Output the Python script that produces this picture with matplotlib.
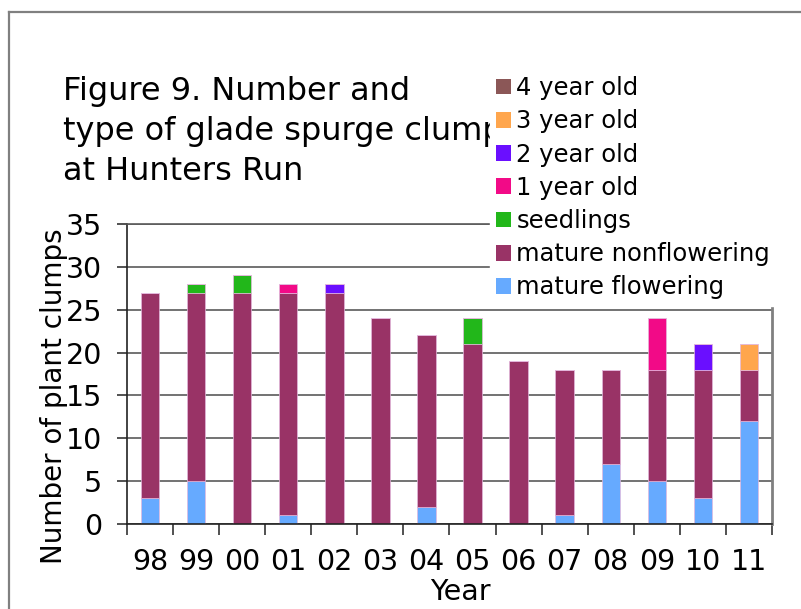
import numpy as np
import matplotlib
matplotlib.use("Agg")
import matplotlib.pyplot as plt
from matplotlib.patches import Patch
from matplotlib.lines import Line2D

years = ['98', '99', '00', '01', '02', '03', '04', '05', '06', '07', '08', '09', '10', '11']

mature_flowering = [3, 5, 0, 1, 0, 0, 2, 0, 0, 1, 7, 5, 3, 12]
mature_nonflowering = [24, 22, 27, 26, 27, 24, 20, 21, 19, 17, 11, 13, 15, 6]
seedlings = [0, 1, 2, 0, 0, 0, 0, 3, 0, 0, 0, 0, 0, 0]
one_year_old = [0, 0, 0, 1, 0, 0, 0, 0, 0, 0, 0, 6, 0, 0]
two_year_old = [0, 0, 0, 0, 1, 0, 0, 0, 0, 0, 0, 0, 3, 0]
three_year_old = [0, 0, 0, 0, 0, 0, 0, 0, 0, 0, 0, 0, 0, 3]
four_year_old = [0, 0, 0, 0, 0, 0, 0, 0, 0, 0, 0, 0, 0, 0]

series = [
    ('mature flowering', mature_flowering, '#66AAFF'),
    ('mature nonflowering', mature_nonflowering, '#993366'),
    ('seedlings', seedlings, '#22B71A'),
    ('1 year old', one_year_old, '#F20A87'),
    ('2 year old', two_year_old, '#6A0FFF'),
    ('3 year old', three_year_old, '#FFA64D'),
    ('4 year old', four_year_old, '#8B5757'),
]

W, H = 801, 609
fig = plt.figure(figsize=(W / 100, H / 100), dpi=100)
ax = fig.add_axes([127 / W, 1 - 524 / H, (772 - 127) / W, (524 - 224) / H])

x = np.arange(len(years))
bottom = np.zeros(len(years))
for name, vals, col in series:
    vals = np.array(vals, dtype=float)
    ax.bar(x, vals, width=0.4, bottom=bottom, color=col,
           edgecolor='#e3b8dc', linewidth=0.5, zorder=2)
    bottom += vals

ax.set_xlim(-0.5, len(years) - 0.5)
ax.set_ylim(0, 35)
ax.set_yticks(np.arange(0, 36, 5))
ax.yaxis.grid(True, color='#5a5a5a', linewidth=1.2)
ax.set_axisbelow(True)

# category boundary ticks, labels in the middle
ax.set_xticks(np.arange(-0.5, len(years), 1.0))
ax.set_xticklabels([])
ax.set_xticks(x, minor=True)
ax.set_xticklabels(years, minor=True)
ax.tick_params(axis='x', which='major', direction='out', length=8, width=1.2, color='#333333')
ax.tick_params(axis='x', which='minor', length=0, pad=17, labelsize=20.5)
ax.tick_params(axis='y', direction='out', length=7, width=1.2, color='#333333',
               pad=11, labelsize=20.5)

for s in ['left', 'bottom']:
    ax.spines[s].set_color('#222222')
    ax.spines[s].set_linewidth(1.2)
ax.spines['top'].set_color('#5a5a5a')
ax.spines['top'].set_linewidth(1.2)
ax.spines['right'].set_color('#808080')
ax.spines['right'].set_linewidth(2)

fig.text(54 / W, 1 - 396 / H, 'Number of plant clumps', rotation=90,
         ha='center', va='center', fontsize=20)
fig.text(460 / W, 1 - 592 / H, 'Year', ha='center', va='center', fontsize=20.5)

title_lines = ['Figure 9. Number and', 'type of glade spurge clumps', 'at Hunters Run']
for i, line in enumerate(title_lines):
    fig.text(63 / W, 1 - (100 + 40 * i) / H, line, ha='left', va='baseline', fontsize=23)

handles = [Patch(facecolor=col, edgecolor='none', label=name) for name, vals, col in series[::-1]]
leg = fig.legend(handles=handles, loc='upper left', bbox_to_anchor=(490 / W, 1 - 70 / H),
                 borderaxespad=0, borderpad=0.25, fontsize=17.5, frameon=True,
                 facecolor='white', edgecolor='white', framealpha=1, fancybox=False,
                 handlelength=0.62, handleheight=0.62, handletextpad=0.22,
                 labelspacing=0.38)

# outer frame of the figure
fig.add_artist(Line2D([9 / W, 1], [1 - 12 / H, 1 - 12 / H], color='#808080', linewidth=1.6))
fig.add_artist(Line2D([9 / W, 9 / W], [0, 1 - 12 / H], color='#808080', linewidth=1.6))

fig.savefig('out.png', dpi=100, facecolor='white')
